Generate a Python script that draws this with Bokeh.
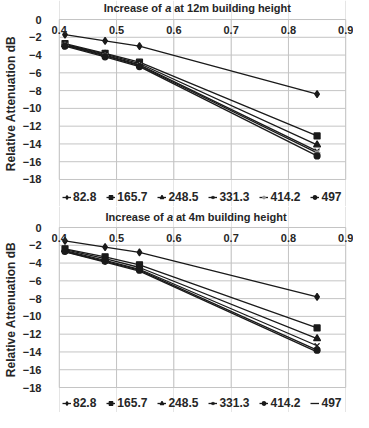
from bokeh.plotting import figure
from bokeh.models import Range1d, LinearAxis, FixedTicker, Legend, LegendItem, Label
from bokeh.layouts import column
from bokeh.embed import file_html
from bokeh.resources import INLINE

# ---- data ----
x_vals = [0.41, 0.48, 0.54, 0.85]
series_names = ["82.8", "165.7", "248.5", "331.3", "414.2", "497"]

top_82_8 = [-1.7, -2.4, -3.0, -8.4]
top_165_7 = [-2.7, -3.8, -4.8, -13.1]
top_248_5 = [-2.8, -3.9, -4.95, -14.1]
top_331_3 = [-2.85, -4.0, -5.1, -14.8]
top_414_2 = [-2.9, -4.1, -5.2, -15.0]
top_497 = [-3.0, -4.2, -5.3, -15.35]

bot_82_8 = [-1.5, -2.2, -2.8, -7.8]
bot_165_7 = [-2.4, -3.3, -4.2, -11.3]
bot_248_5 = [-2.5, -3.5, -4.5, -12.5]
bot_331_3 = [-2.6, -3.7, -4.7, -13.3]
bot_414_2 = [-2.7, -3.8, -4.8, -13.8]
bot_497 = [-2.75, -3.9, -4.9, -14.0]

x_ticks = [0.4, 0.5, 0.6, 0.7, 0.8, 0.9]
y_ticks = [0, -2, -4, -6, -8, -10, -12, -14, -16, -18]

top_markers = ["diamond", "square", "triangle", "x", "asterisk", "circle"]
bot_markers = ["diamond", "square", "triangle", "x", "circle", None]

TXT = "#262626"
GRID = "#c4c4c4"
FONT = "Liberation Sans"
DARK = "#1a1a1a"


def make_chart(series, markers, title_pre, title_post, title_x, marker_colors,
               y_lo_view, y_hi_view, title_off, legend_y):
    x_lo, x_hi = x_ticks[0], x_ticks[-1]
    y_lo, y_hi = min(y_ticks), max(y_ticks)
    p = figure(width=353, height=206,
               x_range=Range1d(0.38644, 0.91356), y_range=Range1d(y_lo_view, y_hi_view),
               output_backend="svg", toolbar_location=None, x_axis_location=None,
               min_border_left=42, min_border_right=0, min_border_top=0, min_border_bottom=0)
    p.outline_line_color = None
    p.background_fill_color = "white"
    p.border_fill_color = "white"
    p.ygrid.visible = False

    # plot-area grid, limited to the axis ranges
    p.segment(x0=[x_lo] * len(y_ticks), x1=[x_hi] * len(y_ticks), y0=y_ticks, y1=y_ticks,
              line_color=GRID, line_width=1)
    p.segment(x0=x_ticks, x1=x_ticks, y0=[y_lo] * len(x_ticks), y1=[y_hi] * len(x_ticks),
              line_color=GRID, line_width=1)

    # y axis
    ya = p.yaxis[0]
    ya.ticker = FixedTicker(ticks=y_ticks)
    ya.bounds = (y_lo, 1.3)
    ya.axis_label = "Relative Attenuation dB"
    ya.axis_label_text_font = FONT
    ya.axis_label_text_font_style = "bold"
    ya.axis_label_text_font_size = "12px"
    ya.axis_label_text_color = TXT
    ya.axis_label_standoff = 2
    ya.major_label_text_font = FONT
    ya.major_label_text_font_style = "bold"
    ya.major_label_text_font_size = "11px"
    ya.major_label_text_color = TXT
    ya.major_label_standoff = 10
    ya.major_tick_in = 0
    ya.major_tick_out = 0
    ya.minor_tick_in = 0
    ya.minor_tick_out = 0
    ya.axis_line_color = None

    # x axis crossing at y = 0
    xa = LinearAxis(ticker=FixedTicker(ticks=x_ticks), fixed_location=0, bounds=(x_lo, x_hi))
    xa.major_label_text_font = FONT
    xa.major_label_text_font_style = "bold"
    xa.major_label_text_font_size = "11px"
    xa.major_label_text_color = TXT
    xa.major_label_standoff = 6
    xa.major_tick_in = 0
    xa.major_tick_out = 0
    xa.minor_tick_in = 0
    xa.minor_tick_out = 0
    xa.axis_line_color = GRID
    p.add_layout(xa, "below")

    items = []
    for name, ys, m, mc in zip(series_names, series, markers, marker_colors):
        rs = [p.line(x_vals, ys, line_color=DARK, line_width=1.3)]
        if m is not None:
            sz = 7 if m in ("diamond", "triangle", "asterisk", "x") else 6
            rs.append(p.scatter(x_vals, ys, marker=m, size=sz, fill_color=mc,
                                line_color=mc, line_width=1.2))
        items.append(LegendItem(label=name, renderers=rs))

    leg = Legend(items=items, orientation="horizontal", location=(11, legend_y),
                 label_text_font=FONT, label_text_font_style="bold",
                 label_text_font_size="12px", label_text_color=TXT,
                 glyph_width=9, glyph_height=12, label_height=12, label_standoff=2,
                 spacing=10, padding=4, margin=0, border_line_color=None,
                 background_fill_alpha=0)
    p.add_layout(leg)

    common = dict(y=0, y_offset=title_off, text_baseline="middle", text_align="left",
                  text_font=FONT, text_font_size="11px", text_color=TXT)
    p.add_layout(Label(x=title_x, text=title_pre, text_font_style="bold", **common))
    p.add_layout(Label(x=title_x, x_offset=61.5, text="a", text_font_style="bold italic", **common))
    p.add_layout(Label(x=title_x, x_offset=70.5, text=title_post, text_font_style="bold", **common))
    return p


top_series = [top_82_8, top_165_7, top_248_5, top_331_3, top_414_2, top_497]
bot_series = [bot_82_8, bot_165_7, bot_248_5, bot_331_3, bot_414_2, bot_497]
p1 = make_chart(top_series, top_markers, "Increase of", "at 12m building height", 0.4775,
                [DARK, DARK, DARK, DARK, "#9a9a9a", DARK],
                -21.04, 2.14, 12, 2)
p2 = make_chart(bot_series, bot_markers, "Increase of", "at 4m building height", 0.4807,
                [DARK] * 6,
                -20.8125, 2.3625, 11, 2)

layout = column(p1, p2, spacing=0)
open("out.html", "w").write(file_html(layout, INLINE))
